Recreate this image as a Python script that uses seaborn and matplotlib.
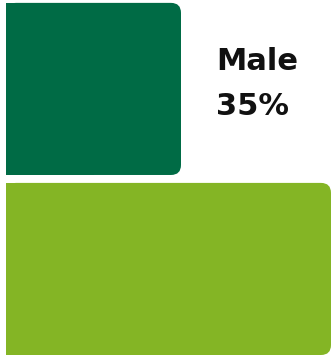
import matplotlib
matplotlib.use("Agg")
import matplotlib.pyplot as plt
from matplotlib.patches import FancyBboxPatch, Rectangle
from matplotlib.transforms import IdentityTransform
import seaborn as sns
import pandas as pd

genders = ["Male", "Female"]
shares = [35, 65]
colors = ["#006B45", "#84B525"]
labelled = ["Male"]

df = pd.DataFrame({"gender": genders, "share": shares})

sns.set_theme(style="white")
plt.rcParams["font.family"] = ["DejaVu Sans"]

W, H, DPI = 334, 355, 100
fig = plt.figure(figsize=(W / DPI, H / DPI), dpi=DPI)
ax = fig.add_axes([0, 0, 1, 1])

sns.barplot(data=df, x="share", y="gender", hue="gender", palette=colors,
            saturation=1, orient="h", width=0.956, legend=False, ax=ax)

ax.set_xlim(-1.2, 65.6)
ax.set_ylim(1.478, -0.494)
ax.axis("off")

fig.canvas.draw()
radius = 10
for bar, gender, share in zip(ax.patches, genders, shares):
    (x0, y0), (x1, y1) = ax.transData.transform(
        [(bar.get_x(), bar.get_y()), (bar.get_x() + bar.get_width(), bar.get_y() + bar.get_height())])
    left, right = min(x0, x1), max(x0, x1)
    bottom, top = min(y0, y1), max(y0, y1)
    color = bar.get_facecolor()
    bar.set_visible(False)
    # rounded right end
    fig.patches.append(FancyBboxPatch(
        (left + radius, bottom + radius), right - left - 2 * radius, top - bottom - 2 * radius,
        boxstyle=f"round,pad={radius}", transform=IdentityTransform(),
        facecolor=color, edgecolor="none", figure=fig))
    # square left end
    fig.patches.append(Rectangle(
        (left, bottom), (right - left) / 2, top - bottom,
        transform=IdentityTransform(), facecolor=color, edgecolor="none", figure=fig))
    if gender not in labelled:
        continue
    # label to the right of the bar
    cy = (bottom + top) / 2
    tx = right + 35
    fig.text(tx / W, (cy + 19) / H, gender, fontsize=22, fontweight="bold",
             color="#111111", va="baseline", ha="left")
    fig.text(tx / W, (cy - 26) / H, f"{share}%", fontsize=22, fontweight="bold",
             color="#111111", va="baseline", ha="left")

fig.savefig("out.png", dpi=DPI)
